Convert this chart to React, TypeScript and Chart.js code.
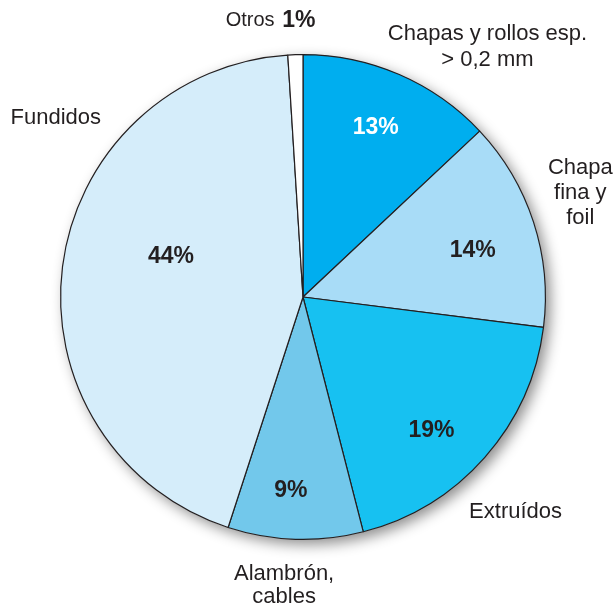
import React, { useEffect, useRef } from "react";
import { Chart, registerables } from "chart.js";

Chart.register(...registerables);

const categories = ["Chapas y rollos esp. > 0,2 mm", "Chapa fina y foil", "Extruídos", "Alambrón, cables", "Fundidos", "Otros"];
const values = [13, 14, 19, 9, 44, 1];
const percentLabels = ["13%", "14%", "19%", "9%", "44%", ""];
const outerLabels: string[][] = [
  ["Chapas y rollos esp.", "> 0,2 mm"],
  ["Chapa", "fina y", "foil"],
  ["Extruídos"],
  ["Alambrón,", "cables"],
  ["Fundidos"],
  ["Otros"],
];
const colors = ["#00aeef", "#a8dcf7", "#17c1f1", "#72c8eb", "#d5edfa", "#ffffff"];
const percentColors = ["#ffffff", "#231f20", "#231f20", "#231f20", "#231f20", "#231f20"];

// label layout relative to pie centre, in units of radius
const innerPos = [
  [0.30, -0.70],
  [0.70, -0.19],
  [0.53, 0.55],
  [-0.05, 0.80],
  [-0.545, -0.165],
  [0, 0],
];
const outerPos = [
  [[0.761, -1.086], [0.761, -0.979]],
  [[1.144, -0.531], [1.144, -0.428], [1.144, -0.325]],
  [[0.877, 0.885]],
  [[-0.078, 1.144], [-0.078, 1.239]],
  [[-1.02, -0.737]],
  [[-0.218, -1.14]],
];

const FONT = "'Helvetica Neue', 'Liberation Sans', Arial, sans-serif";

const labelPlugin = {
  id: "labelPlugin",
  beforeDatasetsDraw(chart: any) {
    const arc = chart.getDatasetMeta(0).data[0];
    if (!arc) return;
    const { x, y, outerRadius } = arc;
    const ctx = chart.ctx;
    ctx.save();
    ctx.shadowColor = "rgba(0,0,0,0.45)";
    ctx.shadowBlur = 14;
    ctx.shadowOffsetX = 5;
    ctx.shadowOffsetY = 5;
    ctx.beginPath();
    ctx.arc(x, y, outerRadius, 0, Math.PI * 2);
    ctx.fillStyle = "#ffffff";
    ctx.fill();
    ctx.restore();
  },
  afterDraw(chart: any) {
    const arcs = chart.getDatasetMeta(0).data;
    const { x, y, outerRadius: R } = arcs[0];
    const ctx = chart.ctx;
    ctx.save();
    ctx.textAlign = "center";
    ctx.textBaseline = "middle";
    percentLabels.forEach((t, i) => {
      if (!t) return;
      ctx.font = `bold 23px ${FONT}`;
      ctx.fillStyle = percentColors[i];
      ctx.fillText(t, x + innerPos[i][0] * R, y + innerPos[i][1] * R);
    });
    outerLabels.forEach((lines, i) => {
      lines.forEach((line, j) => {
        const p = outerPos[i][j];
        ctx.font = i === 5 ? `20px ${FONT}` : `22px ${FONT}`;
        ctx.fillStyle = "#231f20";
        ctx.fillText(line, x + p[0] * R, y + p[1] * R);
      });
    });
    // Otros percentage
    const p = outerPos[5][0];
    ctx.font = `bold 23px ${FONT}`;
    ctx.textAlign = "left";
    ctx.fillText(`${values[5]}%`, x + p[0] * R + 32, y + p[1] * R);
    ctx.restore();
  },
};

export default function App() {
  const ref = useRef<HTMLCanvasElement>(null);
  useEffect(() => {
    if (!ref.current) return;
    const chart = new Chart(ref.current, {
      type: "pie",
      data: {
        labels: categories,
        datasets: [
          {
            data: values,
            backgroundColor: colors,
            borderColor: "#231f20",
            borderWidth: 1.2,
          },
        ],
      },
      options: {
        responsive: true,
        maintainAspectRatio: false,
        animation: false,
        layout: { padding: { left: 60, right: 70, top: 54, bottom: 68 } },
        plugins: {
          legend: { display: false },
          tooltip: { enabled: false },
        },
      },
      plugins: [labelPlugin],
    });
    return () => chart.destroy();
  }, []);
  return (
    <div style={{ position: "absolute", left: 0, top: 0, width: 616, height: 608, background: "#fff" }}>
      <canvas ref={ref} />
    </div>
  );
}
